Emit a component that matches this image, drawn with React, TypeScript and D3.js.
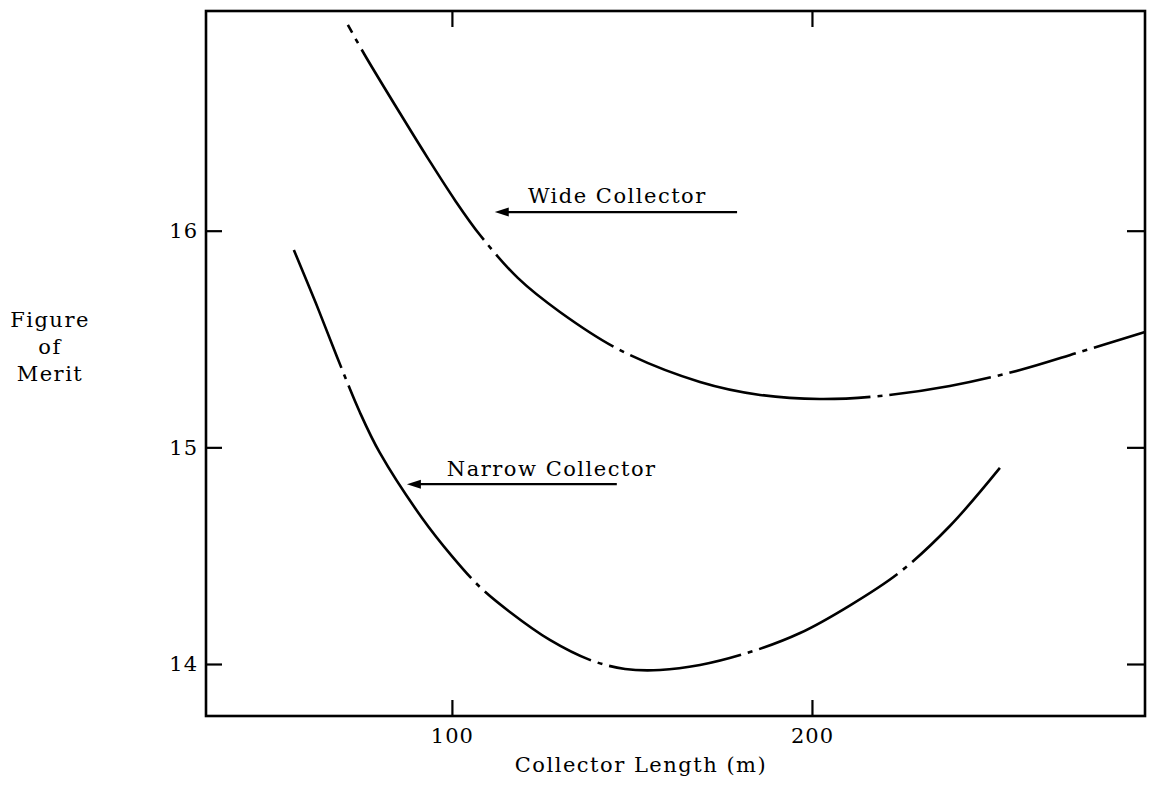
import React, { useEffect, useRef } from 'react'
import * as d3 from 'd3'

const width = 1149
const height = 795
const margin = { top: 11, right: 4, bottom: 79, left: 206 }

const xDomain = [31.7, 292.5]
const yDomain = [13.76, 17.014]
const xTicks = [100, 200]
const yTicks = [14, 15, 16]

const wideLength = [71.1, 75.8, 86.4, 93.3, 100.8, 107.8, 118.3, 130.0, 146.7, 168.9, 185.6, 202.2, 218.9, 238.3, 257.8, 274.4, 292.5]
const wideMerit = [16.95, 16.811, 16.52, 16.335, 16.142, 15.98, 15.782, 15.625, 15.449, 15.302, 15.242, 15.223, 15.237, 15.283, 15.357, 15.44, 15.532]
const narrowLength = [56.1, 62.2, 68.1, 74.4, 80.0, 91.7, 100.0, 107.8, 116.1, 127.2, 138.3, 148.1, 157.8, 168.9, 182.8, 196.7, 210.6, 224.4, 238.3, 252.2]
const narrowMerit = [15.911, 15.666, 15.417, 15.163, 14.974, 14.674, 14.498, 14.355, 14.24, 14.111, 14.019, 13.977, 13.972, 13.995, 14.055, 14.143, 14.271, 14.424, 14.637, 14.905]

// where the dash-dot breaks sit along each curve (collector length)
const wideBreaks = [73.6, 110.6, 147.2, 218.9, 252.2, 275.8]
const narrowBreaks = [70.3, 107.2, 141.1, 182.8, 225.8]

// label text, arrow tail -> head, in data units
const labelText = ['Wide Collector', 'Narrow Collector']
const labelX = [121.1, 98.6]
const labelY = [16.128, 14.868]
const arrowFrom = [179.2, 145.8]
const arrowTo = [111.9, 87.5]
const arrowY = [16.086, 14.83]

const font = '"DejaVu Serif", "Liberation Serif", serif'

function App() {
    const ref = useRef<SVGSVGElement>(null)

    useEffect(() => {
        const svg = d3.select(ref.current)
        svg.selectAll('*').remove()

        const innerWidth = width - margin.left - margin.right
        const innerHeight = height - margin.top - margin.bottom

        const x = d3.scaleLinear().domain(xDomain).range([0, innerWidth])
        const y = d3.scaleLinear().domain(yDomain).range([innerHeight, 0])

        const g = svg.append('g').attr('transform', `translate(${margin.left},${margin.top})`)

        // frame
        g.append('rect')
            .attr('width', innerWidth).attr('height', innerHeight)
            .attr('fill', 'none').attr('stroke', '#000').attr('stroke-width', 2.6)

        const tickLen = 16
        const bottom = d3.axisBottom(x).tickValues(xTicks).tickSize(-tickLen).tickPadding(12).tickFormat(d3.format('d'))
        const top = d3.axisTop(x).tickValues(xTicks).tickSize(-tickLen).tickFormat(() => '')
        const left = d3.axisLeft(y).tickValues(yTicks).tickSize(-tickLen).tickPadding(8).tickFormat(d3.format('d'))
        const right = d3.axisRight(y).tickValues(yTicks).tickSize(-18).tickFormat(() => '')

        g.append('g').attr('transform', `translate(0,${innerHeight})`).call(bottom)
        g.append('g').call(top)
        g.append('g').call(left)
        g.append('g').attr('transform', `translate(${innerWidth},0)`).call(right)

        g.selectAll('.domain').remove()
        g.selectAll('.tick line').attr('stroke', '#000').attr('stroke-width', 2.2)
        g.selectAll('.tick text')
            .attr('font-family', font).attr('font-size', 21).attr('fill', '#000')
            .attr('letter-spacing', 1)

        const line = d3.line<[number, number]>()
            .x(d => x(d[0])).y(d => y(d[1]))
            .curve(d3.curveCatmullRom.alpha(0.5))

        const drawCurve = (xs: number[], ys: number[], breaks: number[]) => {
            const pts = xs.map((v, i) => [v, ys[i]] as [number, number])
            const path = g.append('path').datum(pts)
                .attr('d', line).attr('fill', 'none').attr('stroke', '#000').attr('stroke-width', 2.6)
            const node = path.node() as SVGPathElement
            const total = node.getTotalLength()
            // arc length where the curve reaches a given x
            const lengthAt = (bx: number) => {
                const target = x(bx)
                let lo = 0, hi = total
                for (let k = 0; k < 40; k++) {
                    const mid = (lo + hi) / 2
                    if (node.getPointAtLength(mid).x < target) lo = mid
                    else hi = mid
                }
                return lo
            }
            const dash: number[] = []
            let pos = 0
            breaks.forEach(b => {
                const L = lengthAt(b)
                dash.push(Math.max(0, L - pos - 9.5), 7, 5, 7)
                pos = L + 9.5
            })
            dash.push(total - pos + 20, 20)
            path.attr('stroke-dasharray', dash.join(' '))
        }

        drawCurve(wideLength, wideMerit, wideBreaks)
        drawCurve(narrowLength, narrowMerit, narrowBreaks)

        labelText.forEach((t, i) => {
            g.append('text')
                .attr('x', x(labelX[i])).attr('y', y(labelY[i]))
                .attr('font-family', font).attr('font-size', 21)
                .attr('letter-spacing', 1.5)
                .text(t)
            const x0 = x(arrowFrom[i]), x1 = x(arrowTo[i]), yy = y(arrowY[i])
            g.append('line')
                .attr('x1', x0).attr('x2', x1 + 8).attr('y1', yy).attr('y2', yy)
                .attr('stroke', '#000').attr('stroke-width', 2.2)
            g.append('path')
                .attr('d', `M${x1},${yy}L${x1 + 14},${yy - 4.5}L${x1 + 14},${yy + 4.5}Z`)
                .attr('fill', '#000')
        })

        // axis titles
        svg.append('text')
            .attr('x', 641).attr('y', 772)
            .attr('text-anchor', 'middle')
            .attr('font-family', font).attr('font-size', 21).attr('letter-spacing', 1.5)
            .text('Collector Length (m)')

        const yTitle = svg.append('text')
            .attr('text-anchor', 'middle')
            .attr('font-family', font).attr('font-size', 21).attr('letter-spacing', 1.5)
        ;['Figure', 'of', 'Merit'].forEach((w, i) => {
            yTitle.append('tspan').attr('x', 50).attr('y', 327 + i * 27).text(w)
        })
    }, [])

    return (
        <svg ref={ref} width={width} height={height}
            style={{ position: 'absolute', left: 0, top: 0, background: '#fff' }} />
    )
}

export default App
